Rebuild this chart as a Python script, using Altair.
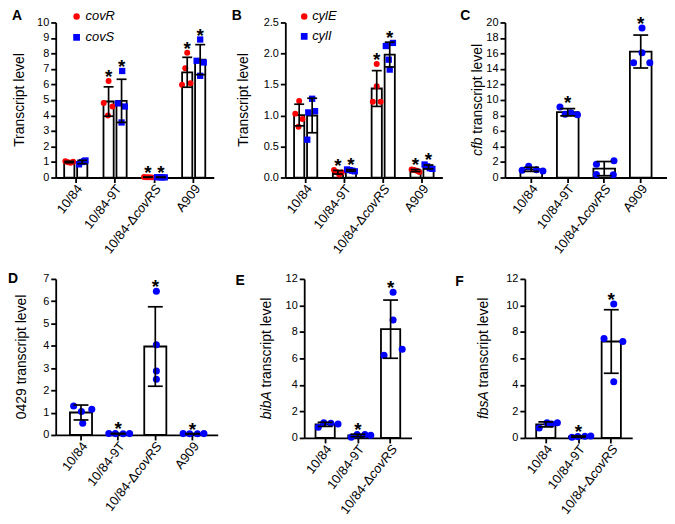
import altair as alt
import numpy as np
import pandas as pd

FONT = "Liberation Sans"
RED = "#ff0000"
BLUE = "#0000ff"

GROUPS4 = ["10/84", "10/84-9T", "10/84-ΔcovRS", "A909"]
GROUPS3 = ["10/84", "10/84-9T", "10/84-ΔcovRS"]

# ---------------- data (replicates per strain) ----------------
# Panel A
A_covR = [[1.05, 0.98, 0.95, 1.02], [6.23, 4.80, 4.58, 4.00], [0.03, 0.02, 0.02, 0.01], [8.04, 7.05, 6.08, 5.98]]
A_covR_jitter = [[-0.6, -0.2, 0.2, 0.6], [0.0, -0.75, 0.6, -0.1], [-0.6, -0.2, 0.2, 0.6], [0.0, -0.3, 0.5, -0.8]]
A_covS = [[1.10, 0.85, 1.00, 1.05], [6.87, 4.78, 4.58, 3.55], [0.02, 0.02, 0.01, 0.01], [8.90, 7.53, 7.42, 6.56]]
A_covS_jitter = [[0.5, -0.5, 0.0, 0.3], [0.1, -0.55, 0.5, 0.0], [-0.6, -0.2, 0.2, 0.6], [0.0, -0.55, 0.55, 0.0]]
A_stars = ["10/84-9T", "10/84-ΔcovRS", "A909"]

# Panel B
B_cylE = [[1.235, 1.03, 0.945, 0.82], [0.12, 0.09, 0.05, 0.08], [1.83, 1.47, 1.22, 1.22], [0.13, 0.12, 0.11, 0.09]]
B_cylE_jitter = [[0.0, -0.6, 0.5, -0.1], [-0.6, -0.2, 0.2, 0.6], [0.0, 0.0, -0.6, 0.6], [-0.6, -0.2, 0.2, 0.6]]
B_cylI = [[1.27, 1.07, 1.05, 0.61], [0.13, 0.12, 0.11, 0.10], [2.17, 2.12, 1.90, 1.74], [0.21, 0.18, 0.15, 0.14]]
B_cylI_jitter = [[0.0, 0.45, -0.6, -0.75], [-0.6, -0.2, 0.2, 0.6], [0.5, -0.6, -0.15, 0.0], [-0.6, -0.2, 0.2, 0.6]]
B_stars = ["10/84-9T", "10/84-ΔcovRS", "A909"]

# Panel C
C_cfb = [[0.95, 1.45, 1.00, 0.85], [9.10, 8.35, 8.10, 8.15], [1.70, 2.15, 0.40, 0.35], [19.3, 16.1, 14.8, 14.8]]
C_jitter = [[-0.8, -0.3, 0.3, 0.8], [-0.7, 0.15, 0.65, -0.3], [-0.7, 0.65, -0.7, 0.6], [0.0, 0.0, -0.65, 0.6]]
C_stars = ["10/84-9T", "A909"]

# Panel D
D_0429 = [[1.30, 1.15, 1.05, 0.53], [0.07, 0.06, 0.05, 0.06], [6.45, 4.05, 2.87, 2.50], [0.06, 0.05, 0.05, 0.06]]
D_jitter = [[-0.65, 0.75, -0.05, 0.05], [-0.8, -0.3, 0.3, 0.8], [0.0, 0.0, 0.0, 0.0], [-0.8, -0.3, 0.3, 0.8]]
D_stars = ["10/84-9T", "10/84-ΔcovRS", "A909"]

# Panel E
E_bibA = [[0.80, 1.15, 1.10, 1.05], [0.05, 0.25, 0.25, 0.20], [11.0, 8.90, 6.70, 6.23]]
E_jitter = [[-0.72, -0.3, 0.25, 0.8], [-0.7, -0.25, 0.35, 0.8], [0.0, 0.0, 0.7, -0.7]]
E_stars = ["10/84-9T", "10/84-ΔcovRS"]

# Panel F
F_fbsA = [[0.75, 1.15, 1.15, 1.05], [0.05, 0.10, 0.12, 0.15], [10.1, 7.50, 7.27, 4.24]]
F_jitter = [[-0.7, -0.1, 0.7, 0.25], [-0.7, -0.25, 0.3, 0.75], [0.0, -0.75, 0.7, 0.0]]
F_stars = ["10/84-9T", "10/84-ΔcovRS"]

# ---------------- styling helpers ----------------
LBL = 13     # x tick label size
LBL_ANGLE = 308
TTL = 14     # y title size
ARIAL_W = {' ': 278, '/': 278, '-': 333, '.': 278, 'Δ': 612,
           'a': 556, 'b': 556, 'c': 500, 'd': 556, 'e': 556, 'f': 278, 'g': 556, 'h': 556,
           'i': 222, 'l': 222, 'm': 833, 'n': 556, 'o': 556, 'p': 556, 'r': 333, 's': 500,
           't': 278, 'u': 556, 'v': 500, 'A': 667, 'R': 722, 'S': 667, 'T': 611}


def tw(s, size):
    return sum(ARIAL_W.get(c, 556) for c in s) * size / 1000.0


def text_layer(txt, x, y, **kw):
    kw.setdefault("color", "black")
    return alt.Chart(pd.DataFrame({"t": [txt]})).mark_text(**kw).encode(
        x=alt.value(x), y=alt.value(y), text="t:N")


def make_panel(letter, groups, series, stars, ymax, yvals, yfmt, W, H, pi, po,
               title_it, title_rest, T, letter_pos, cap, legend=None, extend=0):
    n = len(groups)
    k = len(series)
    step = W / (n - pi + 2 * po)
    bw = step * (1 - pi)
    sub = bw / k
    xs = alt.Scale(domain=groups, paddingInner=pi, paddingOuter=po)
    xax = alt.Axis(labels=False, title=None, ticks=True, tickSize=5, domain=True, grid=False)
    ys = alt.Scale(domain=[0, ymax], nice=False, zero=True)
    yax = alt.Axis(values=yvals, format=yfmt, title=None, tickSize=5, labelPadding=2, grid=False)
    offs = alt.Scale(domain=[-1, 1])

    def X():
        return alt.X("group:N", scale=xs, axis=xax, title=None)

    def Y(f):
        return alt.Y(f, scale=ys, axis=yax, title=None)

    bars, pts, errs, star_l = [], [], [], []
    for si, s in enumerate(series):
        shift = (si - (k - 1) / 2) * sub
        prow, srow = [], []
        for g, vals, jit in zip(groups, s["values"], s["jitter"]):
            arr = np.array(vals, float)
            m = arr.mean()
            sd = arr.std(ddof=1)
            srow.append({"group": g, "mean": m, "lo": max(m - sd, 0), "hi": m + sd,
                         "star": max(m + sd, arr.max())})
            for v, j in zip(vals, jit):
                prow.append({"group": g, "value": v, "off": (shift + j * sub / 2) / (bw / 2)})
        sdf = pd.DataFrame(srow)
        pdf = pd.DataFrame(prow)
        base = alt.Chart(sdf)
        bars.append(base.mark_bar(width=sub - (2.8 if k > 1 else 1.7), xOffset=shift, fill="white",
                                  stroke="black", strokeWidth=1.8, opacity=1)
                    .encode(x=X(), y=Y("mean:Q")))
        pts.append(alt.Chart(pdf).mark_point(shape=s["shape"], filled=True, size=s["size"],
                                             color=s["color"], opacity=1, strokeWidth=0)
                   .encode(x=X(), xOffset=alt.XOffset("off:Q", scale=offs), y=Y("value:Q")))
        errs.append(base.mark_rule(xOffset=shift, color="black", strokeWidth=1.7, opacity=1)
                    .encode(x=X(), y=Y("lo:Q"), y2="hi:Q"))
        for f in ("hi:Q", "lo:Q"):
            errs.append(base.mark_tick(xOffset=shift, orient="horizontal", size=cap, thickness=1.7,
                                       color="black", opacity=1).encode(x=X(), y=Y(f)))
        stdf = sdf[sdf["group"].isin(stars)]
        star_l.append(alt.Chart(stdf).mark_text(text="*", fontSize=19, fontWeight="bold",
                                                 baseline="alphabetic", align="center", dy=2,
                                                 xOffset=shift, color="black")
                      .encode(x=X(), y=Y("star:Q")))

    layers = bars + pts + errs + star_l

    # x tick labels (rotated, with italic gene part)
    plain = [g for g in groups if "Δ" not in g]
    lab_kw = dict(angle=LBL_ANGLE, align="right", baseline="middle", fontSize=LBL, xOffset=4,
                  color="black")
    ly = H + 9
    layers.append(alt.Chart(pd.DataFrame({"group": plain, "lab": plain})).mark_text(**lab_kw)
                  .encode(x=X(), y=alt.value(ly), text="lab:N"))
    dg = [g for g in groups if "Δ" in g]
    layers.append(alt.Chart(pd.DataFrame({"group": dg, "lab": ["10/84-Δ"]}))
                  .mark_text(dx=-tw("covRS", LBL), **lab_kw)
                  .encode(x=X(), y=alt.value(ly), text="lab:N"))
    layers.append(alt.Chart(pd.DataFrame({"group": dg, "lab": ["covRS"]}))
                  .mark_text(fontStyle="italic", **lab_kw)
                  .encode(x=X(), y=alt.value(ly), text="lab:N"))

    # y title
    if title_it is None:
        layers.append(text_layer(title_rest, -T, H / 2, angle=270, align="center",
                                 baseline="bottom", fontSize=TTL))
    else:
        total = tw(title_it, TTL) + tw(" ", TTL) + tw(title_rest, TTL)
        pivot = H / 2 + total / 2 - tw(title_it, TTL)
        layers.append(text_layer(title_it, -T, pivot, angle=270, align="right",
                                 baseline="bottom", fontSize=TTL, fontStyle="italic"))
        layers.append(text_layer(title_rest, -T, pivot - tw(" ", TTL), angle=270, align="left",
                                 baseline="bottom", fontSize=TTL))

    # panel letter
    layers.append(text_layer(letter, letter_pos[0], letter_pos[1], align="left", baseline="top",
                             fontSize=14, fontWeight="bold"))

    # legend
    if legend is not None:
        lx, tx, entries = legend
        for s, ey in zip(series, entries):
            layers.append(alt.Chart(pd.DataFrame({"t": [0]}))
                          .mark_point(shape=s["shape"], filled=True, size=s["size"] + 6,
                                      color=s["color"], opacity=1, strokeWidth=0)
                          .encode(x=alt.value(lx), y=alt.value(ey)))
            layers.append(text_layer(s["name"], tx, ey, align="left", baseline="middle",
                                     fontSize=13, fontStyle="italic"))
    if extend:
        layers.append(text_layer(".", W + extend, H, opacity=0))

    return alt.layer(*layers).properties(width=W, height=H)


def ser(name, vals, jit, color, shape, size):
    return {"name": name, "values": vals, "jitter": jit, "color": color, "shape": shape, "size": size}


pA = make_panel("A", GROUPS4,
                [ser("covR", A_covR, A_covR_jitter, RED, "circle", 36),
                 ser("covS", A_covS, A_covS_jitter, BLUE, "square", 40)],
                A_stars, 10, list(range(0, 11)), "d", 159, 156, 0.34, 0.18,
                None, "Transcript level", 29, (-44, -13), 10,
                legend=(21, 30, [-6, 15]))
pB = make_panel("B", GROUPS4,
                [ser("cylE", B_cylE, B_cylE_jitter, RED, "circle", 36),
                 ser("cylI", B_cylI, B_cylI_jitter, BLUE, "square", 40)],
                B_stars, 2.5, [0, 0.5, 1.0, 1.5, 2.0, 2.5], ".1f", 158, 156, 0.33, 0.19,
                None, "Transcript level", 35, (-54, -13), 10,
                legend=(19, 27, [-6, 14]))
pC = make_panel("C", GROUPS4, [ser("cfb", C_cfb, C_jitter, BLUE, "circle", 50)],
                C_stars, 20, list(range(0, 21, 2)), "d", 163, 156, 0.36, 0.40,
                "cfb", "transcript level", 20, (-45, -13), 15)
pD = make_panel("D", GROUPS4, [ser("0429", D_0429, D_jitter, BLUE, "circle", 50)],
                D_stars, 7, list(range(0, 8)), "d", 163, 157, 0.36, 0.36,
                None, "0429 transcript level", 27, (-48, -7), 15)
pE = make_panel("E", GROUPS3, [ser("bibA", E_bibA, E_jitter, BLUE, "circle", 50)],
                E_stars, 12, list(range(0, 13, 2)), "d", 108, 160, 0.36, 0.32,
                "bibA", "transcript level", 30, (-69, -5), 15, extend=24)
pF = make_panel("F", GROUPS3, [ser("fbsA", F_fbsA, F_jitter, BLUE, "circle", 50)],
                F_stars, 12, list(range(0, 13, 2)), "d", 108, 160, 0.36, 0.32,
                "fbsA", "transcript level", 34, (-70, -4), 15)

row1 = alt.hconcat(pA, pB, pC, spacing=18)
row2 = alt.hconcat(pD, pE, pF, spacing=18)

chart = (alt.vconcat(row1, row2, spacing=15)
         .properties(padding=0)
         .configure(font=FONT)
         .configure_view(stroke=None)
         .configure_axis(domainColor="black", domainWidth=1.8, tickColor="black", tickWidth=1.8,
                         labelColor="black", labelFontSize=11, labelFont=FONT, grid=False))

chart.save("out.html", embed_options={"renderer": "svg", "actions": False})
